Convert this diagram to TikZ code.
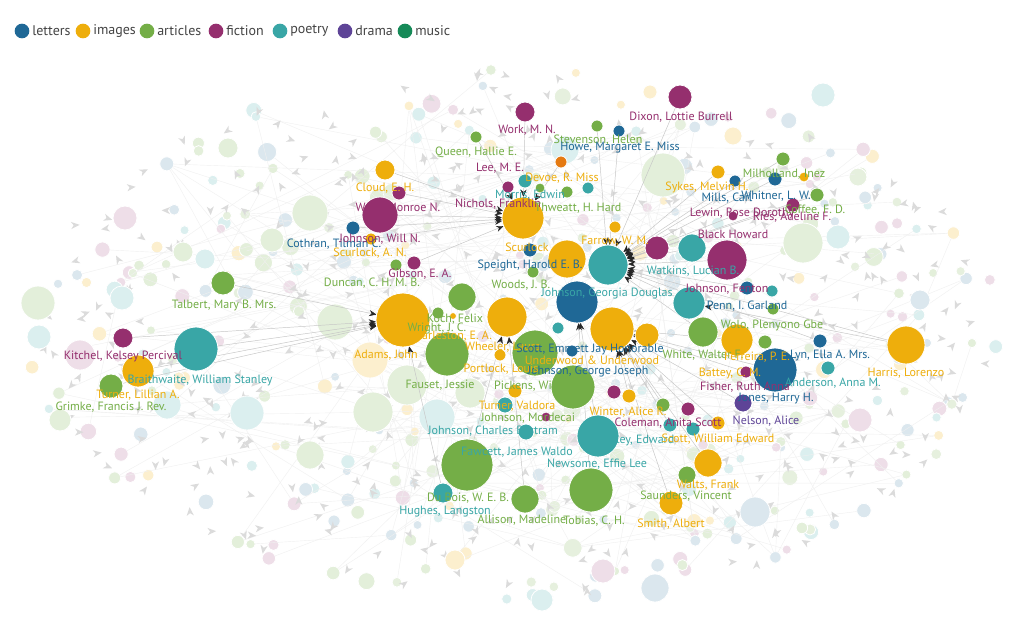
\documentclass[tikz,border=0pt]{standalone}
\usepackage{fontspec}
\setmainfont{PT Sans}
\usetikzlibrary{arrows.meta,calc}
\definecolor{cLet}{HTML}{1F6896}
\definecolor{cImg}{HTML}{EEAE0C}
\definecolor{cArt}{HTML}{74AE47}
\definecolor{cFic}{HTML}{952F6E}
\definecolor{cPoe}{HTML}{39A6A6}
\definecolor{cDra}{HTML}{5E4497}
\definecolor{cMus}{HTML}{168A58}
\definecolor{cOrg}{HTML}{E57A12}
\definecolor{cTxt}{HTML}{444444}
\colorlet{fd1}{cArt!20}
\colorlet{fd2}{cArt!20}
\colorlet{fd3}{cArt!18}
\colorlet{fd4}{cLet!16}
\colorlet{fd5}{cLet!16}
\colorlet{fd6}{cPoe!18}
\colorlet{fd7}{cImg!20}
\colorlet{fd8}{cFic!16}
\pgfdeclarelayer{back}
\pgfdeclarelayer{mid}
\pgfsetlayers{back,mid,main}
\tikzset{
  dot/.style={circle, inner sep=0pt, outer sep=0pt, draw=white, line width=0.6pt},
  lbl/.style={font=\fontsize{9}{10}\selectfont, inner sep=0pt},
  legtext/.style={font=\fontsize{10.5}{12}\selectfont, inner sep=0pt, anchor=west, text=cTxt},
  edge/.style={draw=gray!45, line width=0.35pt, -{Stealth[length=5.5pt,width=4.5pt,color=black!85]}},
  faintedge/.style={draw=gray!12, line width=0.3pt},
}
\newcommand\nd[5]{\node[dot, fill=#5, minimum size={#4*1.5pt}] (#1) at (#2,#3) {};}
\newcommand\lb[5]{\node[lbl, text=#4] (#1) at (#2,#3) {#5};}
\begin{document}
\begin{tikzpicture}[x=0.75pt,y=-0.75pt]
\useasboundingbox (0,0) rectangle (1024,636);

% ---------- background cloud ----------
\begin{pgfonlayer}{back}
\fill[white] (0,0) rectangle (1024,636);
\pgfmathsetseed{4242}
\foreach \i in {1,...,380}{%
  \pgfmathsetmacro\ang{rnd*360}%
  \pgfmathsetmacro\rr{sqrt(rnd)}%
  \pgfmathsetmacro\px{515+487*\rr*cos(\ang)}%
  \pgfmathsetmacro\py{334+266*\rr*sin(\ang)}%
  \pgfmathsetmacro\rad{4.5+5.5*rnd*rnd}%
  \pgfmathtruncatemacro\ci{1+int(8*rnd)}%
  \node[dot, fill=fd\ci, minimum size={\rad*1.5pt}] (bg\i) at (\px,\py) {};
}
\foreach \i in {1,...,200}{%
  \pgfmathtruncatemacro\j{mod(\i+int(40*rnd),380)+1}%
  \draw[faintedge] (bg\i) -- (bg\j);
}
\foreach \i in {1,...,460}{%
  \pgfmathsetmacro\ang{rnd*360}%
  \pgfmathsetmacro\rr{sqrt(rnd)}%
  \pgfmathsetmacro\px{515+482*\rr*cos(\ang)}%
  \pgfmathsetmacro\py{334+262*\rr*sin(\ang)}%
  \pgfmathsetmacro\rot{rnd*360}%
  \fill[gray!28, shift={(\px,\py)}, rotate=\rot] (0,0) -- (-8.5,3.6) -- (-6,0) -- (-8.5,-3.6) -- cycle;
}
% larger faded nodes
\nd{f1}{310}{213}{18}{fd1}
\nd{f2}{663}{175}{22}{fd1}
\nd{f3}{803}{243}{20}{fd1}
\nd{f4}{838}{237}{12}{fd6}
\nd{f5}{125}{218}{12}{fd8}
\nd{f6}{228}{148}{10}{fd1}
\nd{f7}{38}{303}{17}{fd1}
\nd{f8}{39}{337}{12}{fd6}
\nd{f9}{80}{355}{15}{fd8}
\nd{f10}{122}{298}{12}{fd6}
\nd{f11}{247}{413}{17}{fd6}
\nd{f12}{370}{360}{18}{fd7}
\nd{f13}{335}{322}{18}{fd1}
\nd{f14}{407}{385}{20}{fd1}
\nd{f15}{373}{412}{20}{fd1}
\nd{f16}{437}{417}{18}{fd6}
\nd{f17}{470}{393}{15}{fd1}
\nd{f18}{755}{512}{15}{fd4}
\nd{f19}{655}{588}{14}{fd4}
\nd{f20}{603}{571}{12}{fd8}
\nd{f21}{733}{136}{9}{fd7}
\nd{f22}{823}{95}{12}{fd6}
\nd{f23}{272}{240}{12}{fd1}
\nd{f24}{183}{252}{10}{fd1}
\nd{f25}{205}{259}{10}{fd6}
\nd{f26}{650}{92}{7}{fd7}
\nd{f27}{310}{455}{14}{fd1}
\nd{f28}{860}{420}{12}{fd8}
\nd{f29}{565}{150}{14}{fd6}
\nd{f30}{920}{300}{10}{fd4}
\nd{f31}{167}{405}{14}{fd6}
\nd{f32}{60}{420}{11}{fd1}
\nd{f33}{542}{600}{11}{fd6}
\nd{f34}{455}{560}{10}{fd7}
\end{pgfonlayer}

% ---------- legend ----------
\foreach \k/\xx/\col/\txt in {1/22/cLet/letters,2/83/cImg/images,3/147/cArt/articles,4/216/cFic/fiction,5/280/cPoe/poetry,6/345/cDra/drama,7/405/cMus/music}{%
  \node[dot, fill=\col, minimum size=11pt, draw=none] (legc\k) at (\xx,31) {};
  \node[legtext] (legt\k) at (\xx+10,31) {\txt};
}

% ---------- main nodes ----------
\nd{dixon}{680}{97}{12}{cFic}
\nd{workm}{525}{112}{10}{cFic}
\nd{stev}{597}{126}{6}{cArt}
\nd{howe}{619}{131}{6}{cLet}
\nd{queen}{476}{137}{6}{cArt}
\nd{devoe}{561}{162}{6}{cOrg}
\nd{cloud}{385}{170}{10}{cImg}
\nd{cothran}{353}{228}{7}{cLet}
\nd{workmn}{380}{215}{18}{cFic}
\nd{wmsm}{399}{193}{7}{cFic}
\nd{nichols}{508}{187}{6}{cFic}
\nd{morris}{525}{181}{7}{cPoe}
\nd{artA}{540}{188}{5}{cArt}
\nd{artB}{567}{192}{6}{cArt}
\nd{poeA}{588}{188}{6}{cPoe}
\nd{scur}{523}{218}{21}{cImg}
\nd{imgA}{615}{227}{6}{cImg}
\nd{johnwill}{371}{239}{6}{cImg}
\nd{gibsonA}{396}{265}{6}{cArt}
\nd{gibson}{414}{263}{7}{cFic}
\nd{talbert}{223}{283}{12}{cArt}
\nd{kitchel}{123}{338}{10}{cFic}
\nd{braith}{196}{349}{22}{cPoe}
\nd{grimke}{111}{386}{12}{cArt}
\nd{turnerL}{138}{371}{16}{cImg}
\nd{ad}{403}{320}{27}{cImg}
\nd{artC}{462}{297}{14}{cArt}
\nd{koch}{438}{313}{6}{cArt}
\nd{imgT}{453}{316}{3.5}{cImg}
\nd{fauset}{447}{354}{22}{cArt}
\nd{wheel}{507}{317}{20}{cImg}
\nd{speight}{530}{250}{7}{cLet}
\nd{woods}{533}{272}{6}{cArt}
\nd{farrow}{567}{259}{19}{cImg}
\nd{jl}{577}{302}{21}{cLet}
\nd{gdj}{608}{265}{20}{cPoe}
\nd{bi}{612}{329}{22}{cImg}
\nd{imgB}{647}{335}{12}{cImg}
\nd{poeB}{558}{328}{6}{cPoe}
\nd{letB}{572}{351}{6}{cLet}
\nd{artD}{535}{353}{23}{cArt}
\nd{imgP}{500}{355}{6}{cImg}
\nd{artE}{573}{387}{22}{cArt}
\nd{pick}{515}{391}{7}{cImg}
\nd{ficA}{614}{392}{7}{cFic}
\nd{winter}{629}{396}{7}{cImg}
\nd{poeT}{505}{405}{8}{cPoe}
\nd{ficBus}{546}{417}{5}{cFic}
\nd{jcb}{526}{432}{8}{cPoe}
\nd{artF}{663}{405}{7}{cArt}
\nd{fawc}{467}{465}{26}{cArt}
\nd{hughes}{443}{493}{10}{cPoe}
\nd{allison}{525}{499}{14}{cArt}
\nd{tobias}{591}{490}{22}{cArt}
\nd{newsome}{598}{436}{21}{cPoe}
\nd{coleman}{688}{409}{7}{cFic}
\nd{poeC}{670}{425}{7}{cPoe}
\nd{poeD}{693}{429}{7}{cPoe}
\nd{imgS}{718}{423}{7}{cImg}
\nd{walts}{708}{463}{14}{cImg}
\nd{artW}{687}{475}{9}{cArt}
\nd{smith}{671}{503}{12}{cImg}
\nd{ficW}{657}{248}{12}{cFic}
\nd{watk}{692}{248}{14}{cPoe}
\nd{blackh}{727}{260}{20}{cFic}
\nd{fenton}{747}{288}{7}{cLet}
\nd{poeE}{772}{291}{6}{cPoe}
\nd{penn}{689}{303}{16}{cPoe}
\nd{artP}{773}{309}{6}{cArt}
\nd{wolo}{703}{332}{15}{cArt}
\nd{ferr}{737}{340}{16}{cImg}
\nd{artQ}{765}{342}{7}{cArt}
\nd{lyn}{820}{341}{7}{cLet}
\nd{bigL}{775}{370}{22}{cLet}
\nd{battey}{746}{372}{6}{cFic}
\nd{poeF}{828}{368}{7}{cPoe}
\nd{harris}{906}{345}{19}{cImg}
\nd{jones}{743}{403}{9}{cDra}
\nd{sykes}{718}{172}{7}{cImg}
\nd{mills}{735}{181}{6}{cLet}
\nd{whit}{775}{179}{7}{cLet}
\nd{milh}{783}{159}{7}{cArt}
\nd{georgeE}{804}{177}{5}{cImg}
\nd{coffee}{817}{195}{7}{cArt}
\nd{ries}{793}{205}{7}{cFic}
\nd{lewin}{733}{216}{5}{cFic}

% ---------- edges ----------
\begin{pgfonlayer}{mid}
\foreach \s/\t in {harris/gdj, harris/penn, talbert/ad, braith/ad, kitchel/ad, turnerL/ad, grimke/ad,
  cloud/scur, workmn/scur, wmsm/scur, workm/scur, queen/scur, devoe/scur, gibson/scur, cothran/scur, johnwill/scur,
  dixon/gdj, stev/gdj, howe/gdj, sykes/gdj, mills/gdj, whit/gdj, milh/gdj, coffee/gdj, ries/gdj, lewin/gdj,
  blackh/gdj, watk/gdj, ficW/gdj, fenton/gdj, penn/gdj, wolo/gdj, lyn/gdj,
  ferr/bi, battey/bi, bigL/bi, jones/bi, coleman/bi, poeC/bi, imgS/bi, walts/bi, smith/bi,
  newsome/jl, tobias/jl, allison/wheel, fawc/wheel, hughes/ad, artF/bi, winter/bi}{%
  \draw[edge] (\s) -- (\t);
}
\end{pgfonlayer}

% ---------- labels ----------
\lb{ldixon}{681}{117}{cFic}{Dixon, Lottie Burrell}
\lb{lworkm}{527}{130}{cFic}{Work, M. N.}
\lb{lstev}{598}{140}{cArt}{Stevenson, Helen}
\lb{lhowe}{620}{148}{cLet}{Howe, Margaret E. Miss}
\lb{lqueen}{476}{152}{cArt}{Queen, Hallie E.}
\lb{llee}{500}{168}{cFic}{Lee, M. E.}
\lb{ldevoe}{562}{178}{cImg}{Devoe, R. Miss}
\lb{lcloud}{385}{188}{cImg}{Cloud, E. H.}
\lb{lmorris}{530}{195}{cPoe}{Morris, Edwin}
\lb{lnich}{498}{204}{cFic}{Nichols, Franklin}
\lb{lworkmn}{398}{208}{cFic}{Work, Monroe N.}
\lb{lthw}{578}{208}{cArt}{Thweatt, H. Hard}
\lb{lscur}{527}{247}{cImg}{Scurlock}
\lb{lfarrow}{615}{241}{cImg}{Farrow, W. M.}
\lb{lcothran}{334}{244}{cLet}{Cothran, Tilman C.}
\lb{ljohnwill}{380}{239}{cFic}{Johnson, Will N.}
\lb{lscuran}{370}{253}{cImg}{Scurlock, A. N.}
\lb{lspeight}{530}{265}{cLet}{Speight, Harold E. B.}
\lb{lduncan}{372}{283}{cArt}{Duncan, C. H. M. B.}
\lb{lgibson}{420}{274}{cFic}{Gibson, E. A.}
\lb{lwoods}{521}{285}{cArt}{Woods, J. B.}
\lb{lgdj}{607}{293}{cPoe}{Johnson, Georgia Douglas}
\lb{ltalbert}{224}{305}{cArt}{Talbert, Mary B. Mrs.}
\lb{lkoch}{455}{319}{cArt}{Koch, Felix}
\lb{lwright}{437}{328}{cArt}{Wright, J. C.}
\lb{lharl}{453}{336}{cImg}{Harleston, E. A.}
\lb{lwheel}{503}{347}{cImg}{Wheeler, Laura}
\lb{lhonor}{590}{349}{cLet}{Scott, Emmett Jay Honorable}
\lb{lkitchel}{123}{356}{cFic}{Kitchel, Kelsey Percival}
\lb{ladams}{386}{355}{cImg}{Adams, John}
\lb{lunder}{592}{360}{cImg}{Underwood \& Underwood}
\lb{lgjoseph}{588}{371}{cLet}{Johnson, George Joseph}
\lb{lportlock}{501}{369}{cImg}{Portlock, Louis}
\lb{lbraith}{200}{380}{cPoe}{Braithwaite, William Stanley}
\lb{lfauset}{440}{385}{cArt}{Fauset, Jessie}
\lb{lpick}{536}{386}{cArt}{Pickens, William}
\lb{lturnerl}{138}{395}{cImg}{Turner, Lillian A.}
\lb{lturnerv}{517}{406}{cImg}{Turner, Valdora}
\lb{lgrimke}{111}{407}{cArt}{Grimke, Francis J. Rev.}
\lb{lwinter}{628}{412}{cImg}{Winter, Alice R.}
\lb{ljmord}{528}{418}{cArt}{Johnson, Mordecai}
\lb{ljcb}{493}{431}{cPoe}{Johnson, Charles Bertram}
\lb{lriley}{640}{440}{cPoe}{Riley, Edward}
\lb{lfawc}{517}{452}{cPoe}{Fawcett, James Waldo}
\lb{lnewsome}{597}{464}{cPoe}{Newsome, Effie Lee}
\lb{ldubois}{468}{498}{cArt}{Du Bois, W. E. B.}
\lb{lhughes}{445}{512}{cPoe}{Hughes, Langston}
\lb{lallison}{522}{520}{cArt}{Allison, Madeline}
\lb{ltobias}{594}{521}{cArt}{Tobias, C. H.}
\lb{lsmith}{671}{524}{cImg}{Smith, Albert}
\lb{lsaund}{686}{496}{cArt}{Saunders, Vincent}
\lb{lwalts}{708}{485}{cImg}{Walts, Frank}
\lb{lscott}{718}{439}{cImg}{Scott, William Edward}
\lb{lcoleman}{668}{423}{cFic}{Coleman, Anita Scott}
\lb{lnelson}{766}{421}{cDra}{Nelson, Alice}
\lb{ljones}{776}{399}{cLet}{Jones, Harry H.}
\lb{lfisher}{745}{387}{cFic}{Fisher, Ruth Anna}
\lb{landerson}{833}{383}{cPoe}{Anderson, Anna M.}
\lb{lbattey}{730}{373}{cImg}{Battey, C. M.}
\lb{lharris}{906}{373}{cImg}{Harris, Lorenzo}
\lb{lwhite}{703}{355}{cArt}{White, Walter F.}
\lb{lferr}{757}{357}{cImg}{Ferreira, P. E.}
\lb{llyn}{830}{355}{cLet}{Lyn, Ella A. Mrs.}
\lb{lwolo}{772}{325}{cArt}{Wolo, Plenyono Gbe}
\lb{lpenn}{747}{306}{cLet}{Penn, I. Garland}
\lb{lfenton}{727}{289}{cFic}{Johnson, Fenton}
\lb{lwatk}{693}{271}{cPoe}{Watkins, Lucian B.}
\lb{lblackh}{733}{234}{cFic}{Black Howard}
\lb{llewin}{742}{213}{cFic}{Lewin, Rose Dorothy}
\lb{lries}{792}{217}{cFic}{Ries, Adeline F.}
\lb{lcoffee}{815}{210}{cArt}{Coffee, F. D.}
\lb{lmills}{727}{198}{cLet}{Mills, Carl}
\lb{lwhit}{776}{196}{cLet}{Whitner, L. W.}
\lb{lsykes}{707}{187}{cImg}{Sykes, Melvin H.}
\lb{lmilh}{784}{174}{cArt}{Milholland, Inez}
\end{tikzpicture}
\end{document}
